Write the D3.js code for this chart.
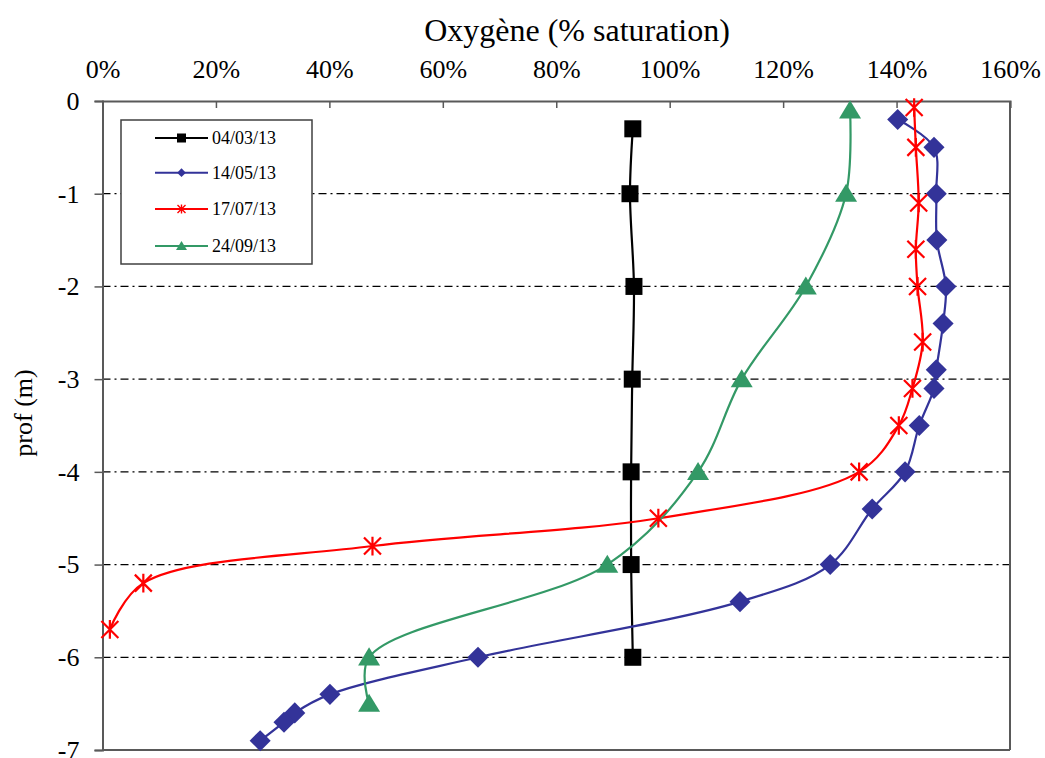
<!DOCTYPE html>
<html>
<head>
<meta charset="utf-8">
<script src="https://cdn.jsdelivr.net/npm/d3@7"></script>
<style>
  body { margin: 0; background: #fff; }
  svg text { font-family: "Liberation Serif", "Times New Roman", serif; }
</style>
</head>
<body>
<div id="chart"></div>
<script>
// chart size and plot area
var W = 1045, H = 758;
var margin = {top: 101, right: 35, bottom: 8, left: 102.5};
var width = W - margin.left - margin.right;
var height = H - margin.top - margin.bottom;

// data: oxygen (% saturation) by depth (m)
var xTicks = [0, 20, 40, 60, 80, 100, 120, 140, 160];
var yTicks = [0, -1, -2, -3, -4, -5, -6, -7];
var seriesNames = ["04/03/13", "14/05/13", "17/07/13", "24/09/13"];
var seriesColors = ["#000000", "#333399", "#ff0000", "#339966"];

var depth0403 = [-0.3, -1, -2, -3, -4, -5, -6];
var oxy0403   = [93.5, 93.0, 93.7, 93.4, 93.2, 93.2, 93.5];

var depth1405 = [-0.2, -0.5, -1, -1.5, -2, -2.4, -2.9, -3.1, -3.5, -4, -4.4, -5, -5.4, -6, -6.4, -6.6, -6.7, -6.9];
var oxy1405   = [140.2, 146.6, 147.0, 147.1, 148.7, 148.2, 147.0, 146.6, 144.0, 141.5, 135.7, 128.3, 112.4, 66.2, 40.1, 33.9, 32.0, 27.8];

var depth1707 = [-0.07, -0.5, -1.1, -1.6, -2, -2.6, -3.1, -3.5, -4, -4.5, -4.8, -5.2, -5.7];
var oxy1707   = [143.1, 143.4, 143.9, 143.4, 143.7, 144.6, 142.8, 140.4, 133.4, 98.0, 47.6, 7.2, 1.3];

var depth2409 = [-0.1, -1, -2, -3, -4, -5, -6, -6.5];
var oxy2409   = [131.8, 131.1, 124.0, 112.7, 105.0, 89.0, 47.0, 47.0];

var seriesDepth = [depth0403, depth1405, depth1707, depth2409];
var seriesOxy = [oxy0403, oxy1405, oxy1707, oxy2409];

var series = seriesNames.map(function(name, i) {
  return {
    name: name,
    color: seriesColors[i],
    points: seriesDepth[i].map(function(d, j) { return {depth: d, oxy: seriesOxy[i][j]}; })
  };
});

var svg = d3.select("#chart").append("svg")
    .attr("width", W)
    .attr("height", H);

var g = svg.append("g")
    .attr("transform", "translate(" + margin.left + "," + margin.top + ")");

var x = d3.scaleLinear().domain([0, 160]).range([0, width]);
var y = d3.scaleLinear().domain([0, -7]).range([0, height]);

// horizontal dash-dot gridlines
g.selectAll(".grid")
    .data(yTicks.filter(function(d) { return d !== 0 && d !== -7; }))
    .enter().append("line")
    .attr("x1", 0)
    .attr("x2", width)
    .attr("y1", function(d) { return y(d); })
    .attr("y2", function(d) { return y(d); })
    .attr("stroke", "#000")
    .attr("stroke-width", 1.3)
    .attr("stroke-dasharray", "8,4,2,4");

// frame right + bottom
g.append("line")
    .attr("x1", width).attr("x2", width)
    .attr("y1", 0).attr("y2", height)
    .attr("stroke", "#595959").attr("stroke-width", 2);
g.append("line")
    .attr("x1", 0).attr("x2", width)
    .attr("y1", height).attr("y2", height)
    .attr("stroke", "#595959").attr("stroke-width", 2);

// top x axis, ticks pointing in
var xAxis = d3.axisTop(x)
    .tickValues(xTicks)
    .tickSize(-7)
    .tickPadding(23)
    .tickFormat(function(d) { return d + "%"; });
var gx = g.append("g").call(xAxis);
gx.select(".domain").attr("stroke", "#595959").attr("stroke-width", 2);
gx.selectAll(".tick line").attr("stroke", "#595959").attr("stroke-width", 1.5);
gx.selectAll(".tick text")
    .attr("fill", "#000")
    .style("font-size", "26px");

// left y axis, ticks outward
var yAxis = d3.axisLeft(y)
    .tickValues(yTicks)
    .tickSize(8)
    .tickPadding(15)
    .tickFormat(function(d) { return d; });
var gy = g.append("g").call(yAxis);
gy.select(".domain").attr("stroke", "#595959").attr("stroke-width", 2);
gy.selectAll(".tick line").attr("stroke", "#595959").attr("stroke-width", 1.5);
gy.selectAll(".tick text")
    .attr("fill", "#000")
    .style("font-size", "26px");

// axis titles
svg.append("text")
    .attr("x", 577)
    .attr("y", 41)
    .attr("text-anchor", "middle")
    .style("font-size", "32px")
    .text("Oxygène (% saturation)");

svg.append("text")
    .attr("transform", "translate(32,413) rotate(-90)")
    .attr("text-anchor", "middle")
    .style("font-size", "26px")
    .text("prof (m)");

// smoothed lines
var line = d3.line()
    .x(function(d) { return x(d.oxy); })
    .y(function(d) { return y(d.depth); })
    .curve(d3.curveCatmullRom.alpha(0.5));

g.selectAll(".serie")
    .data(series)
    .enter().append("path")
    .attr("d", function(d) { return line(d.points); })
    .attr("fill", "none")
    .attr("stroke", function(d) { return d.color; })
    .attr("stroke-width", 2.2);

// marker drawing
function drawMarker(sel, i, s) {
  var c = seriesColors[i];
  if (i === 0) {
    sel.append("rect")
      .attr("x", -s / 2).attr("y", -s / 2)
      .attr("width", s).attr("height", s)
      .attr("fill", c);
  } else if (i === 1) {
    var r = s * 0.62;
    sel.append("path")
      .attr("d", "M0," + (-r) + "L" + r + ",0L0," + r + "L" + (-r) + ",0Z")
      .attr("fill", c);
  } else if (i === 2) {
    var a = s / 2;
    sel.append("path")
      .attr("d", "M" + (-a) + "," + (-a) + "L" + a + "," + a +
                 "M" + (-a) + "," + a + "L" + a + "," + (-a) +
                 "M0," + (-a * 1.1) + "L0," + (a * 1.1))
      .attr("stroke", c)
      .attr("stroke-width", s > 12 ? 2.2 : 1.4)
      .attr("fill", "none");
  } else {
    var h = s * 0.82;
    sel.append("path")
      .attr("d", "M0," + (-h * 0.55) + "L" + (s / 2) + "," + (h * 0.45) + "L" + (-s / 2) + "," + (h * 0.45) + "Z")
      .attr("fill", c);
  }
}

var markerSize = [17, 17, 17, 22];
series.forEach(function(sr, i) {
  g.selectAll(".m" + i)
    .data(sr.points)
    .enter().append("g")
    .attr("transform", function(d) { return "translate(" + x(d.oxy) + "," + y(d.depth) + ")"; })
    .each(function() { drawMarker(d3.select(this), i, markerSize[i]); });
});

// legend
var legend = svg.append("g").attr("transform", "translate(121,120)");
legend.append("rect")
    .attr("width", 191)
    .attr("height", 144)
    .attr("fill", "#fff")
    .attr("stroke", "#404040")
    .attr("stroke-width", 1.5);

var legendY = [18, 52.7, 89, 126];
var legendMarker = [9, 7, 8, 11];
seriesNames.forEach(function(name, i) {
  var row = legend.append("g").attr("transform", "translate(0," + legendY[i] + ")");
  row.append("line")
    .attr("x1", 34).attr("x2", 87)
    .attr("stroke", seriesColors[i])
    .attr("stroke-width", 2);
  var m = row.append("g").attr("transform", "translate(60.5,0)");
  drawMarker(m, i, legendMarker[i]);
  row.append("text")
    .attr("x", 91)
    .attr("y", 6)
    .style("font-size", "18px")
    .text(name);
});
</script>
</body>
</html>
